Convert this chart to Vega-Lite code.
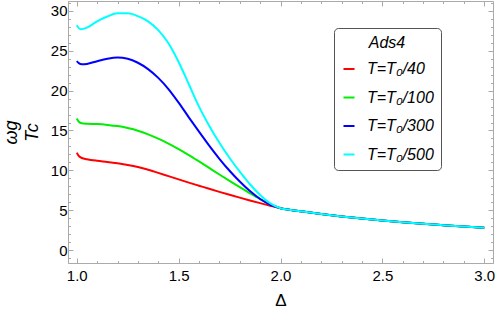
{
  "$schema": "https://vega.github.io/schema/vega-lite/v6.json",
  "width": 425,
  "height": 262,
  "autosize": {"type": "none"},
  "padding": {"left": 68, "top": 1, "right": 5, "bottom": 48},
  "background": "white",
  "config": {
    "view": {"stroke": "#aaaaaa", "strokeWidth": 1},
    "axis": {
      "domainColor": "#aaaaaa",
      "tickColor": "#aaaaaa",
      "labelColor": "#000000",
      "labelFont": "Liberation Sans",
      "labelFontSize": 15,
      "titleFont": "Liberation Sans",
      "titleColor": "#000000",
      "titleFontWeight": "normal",
      "grid": false,
      "labelOverlap": false,
      "labelFlush": false
    }
  },
  "datasets": {
    "curves": [
      {"d": 1.0, "w": 12.2, "s": "T=T₀/40"},
      {"d": 1.01, "w": 11.8, "s": "T=T₀/40"},
      {"d": 1.025, "w": 11.55, "s": "T=T₀/40"},
      {"d": 1.05, "w": 11.4, "s": "T=T₀/40"},
      {"d": 1.1, "w": 11.2, "s": "T=T₀/40"},
      {"d": 1.15, "w": 11.05, "s": "T=T₀/40"},
      {"d": 1.2, "w": 10.88, "s": "T=T₀/40"},
      {"d": 1.25, "w": 10.68, "s": "T=T₀/40"},
      {"d": 1.3, "w": 10.42, "s": "T=T₀/40"},
      {"d": 1.35, "w": 10.07, "s": "T=T₀/40"},
      {"d": 1.4, "w": 9.68, "s": "T=T₀/40"},
      {"d": 1.45, "w": 9.27, "s": "T=T₀/40"},
      {"d": 1.5, "w": 8.86, "s": "T=T₀/40"},
      {"d": 1.55, "w": 8.46, "s": "T=T₀/40"},
      {"d": 1.6, "w": 8.07, "s": "T=T₀/40"},
      {"d": 1.65, "w": 7.68, "s": "T=T₀/40"},
      {"d": 1.7, "w": 7.3, "s": "T=T₀/40"},
      {"d": 1.75, "w": 6.93, "s": "T=T₀/40"},
      {"d": 1.8, "w": 6.57, "s": "T=T₀/40"},
      {"d": 1.85, "w": 6.22, "s": "T=T₀/40"},
      {"d": 1.9, "w": 5.88, "s": "T=T₀/40"},
      {"d": 1.95, "w": 5.55, "s": "T=T₀/40"},
      {"d": 2.0, "w": 5.25, "s": "T=T₀/40"},
      {"d": 2.05, "w": 5.03, "s": "T=T₀/40"},
      {"d": 2.1, "w": 4.85, "s": "T=T₀/40"},
      {"d": 2.2, "w": 4.52, "s": "T=T₀/40"},
      {"d": 2.3, "w": 4.22, "s": "T=T₀/40"},
      {"d": 2.4, "w": 3.95, "s": "T=T₀/40"},
      {"d": 2.5, "w": 3.71, "s": "T=T₀/40"},
      {"d": 2.6, "w": 3.49, "s": "T=T₀/40"},
      {"d": 2.7, "w": 3.29, "s": "T=T₀/40"},
      {"d": 2.8, "w": 3.12, "s": "T=T₀/40"},
      {"d": 2.9, "w": 2.95, "s": "T=T₀/40"},
      {"d": 3.0, "w": 2.8, "s": "T=T₀/40"},

      {"d": 1.0, "w": 16.5, "s": "T=T₀/100"},
      {"d": 1.01, "w": 16.1, "s": "T=T₀/100"},
      {"d": 1.025, "w": 15.9, "s": "T=T₀/100"},
      {"d": 1.05, "w": 15.85, "s": "T=T₀/100"},
      {"d": 1.1, "w": 15.8, "s": "T=T₀/100"},
      {"d": 1.15, "w": 15.7, "s": "T=T₀/100"},
      {"d": 1.2, "w": 15.55, "s": "T=T₀/100"},
      {"d": 1.25, "w": 15.3, "s": "T=T₀/100"},
      {"d": 1.3, "w": 14.97, "s": "T=T₀/100"},
      {"d": 1.35, "w": 14.52, "s": "T=T₀/100"},
      {"d": 1.4, "w": 13.98, "s": "T=T₀/100"},
      {"d": 1.45, "w": 13.36, "s": "T=T₀/100"},
      {"d": 1.5, "w": 12.67, "s": "T=T₀/100"},
      {"d": 1.55, "w": 11.92, "s": "T=T₀/100"},
      {"d": 1.6, "w": 11.12, "s": "T=T₀/100"},
      {"d": 1.65, "w": 10.3, "s": "T=T₀/100"},
      {"d": 1.7, "w": 9.48, "s": "T=T₀/100"},
      {"d": 1.75, "w": 8.67, "s": "T=T₀/100"},
      {"d": 1.8, "w": 7.88, "s": "T=T₀/100"},
      {"d": 1.85, "w": 7.12, "s": "T=T₀/100"},
      {"d": 1.9, "w": 6.4, "s": "T=T₀/100"},
      {"d": 1.95, "w": 5.77, "s": "T=T₀/100"},
      {"d": 2.0, "w": 5.25, "s": "T=T₀/100"},
      {"d": 2.05, "w": 5.03, "s": "T=T₀/100"},
      {"d": 2.1, "w": 4.85, "s": "T=T₀/100"},
      {"d": 2.2, "w": 4.52, "s": "T=T₀/100"},
      {"d": 2.3, "w": 4.22, "s": "T=T₀/100"},
      {"d": 2.4, "w": 3.95, "s": "T=T₀/100"},
      {"d": 2.5, "w": 3.71, "s": "T=T₀/100"},
      {"d": 2.6, "w": 3.49, "s": "T=T₀/100"},
      {"d": 2.7, "w": 3.29, "s": "T=T₀/100"},
      {"d": 2.8, "w": 3.12, "s": "T=T₀/100"},
      {"d": 2.9, "w": 2.95, "s": "T=T₀/100"},
      {"d": 3.0, "w": 2.8, "s": "T=T₀/100"},

      {"d": 1.0, "w": 23.7, "s": "T=T₀/300"},
      {"d": 1.01, "w": 23.45, "s": "T=T₀/300"},
      {"d": 1.025, "w": 23.3, "s": "T=T₀/300"},
      {"d": 1.05, "w": 23.35, "s": "T=T₀/300"},
      {"d": 1.1, "w": 23.7, "s": "T=T₀/300"},
      {"d": 1.15, "w": 24.0, "s": "T=T₀/300"},
      {"d": 1.2, "w": 24.15, "s": "T=T₀/300"},
      {"d": 1.25, "w": 24.0, "s": "T=T₀/300"},
      {"d": 1.3, "w": 23.5, "s": "T=T₀/300"},
      {"d": 1.35, "w": 22.7, "s": "T=T₀/300"},
      {"d": 1.4, "w": 21.6, "s": "T=T₀/300"},
      {"d": 1.45, "w": 20.2, "s": "T=T₀/300"},
      {"d": 1.5, "w": 18.5, "s": "T=T₀/300"},
      {"d": 1.55, "w": 16.65, "s": "T=T₀/300"},
      {"d": 1.6, "w": 14.85, "s": "T=T₀/300"},
      {"d": 1.65, "w": 13.1, "s": "T=T₀/300"},
      {"d": 1.7, "w": 11.45, "s": "T=T₀/300"},
      {"d": 1.75, "w": 9.95, "s": "T=T₀/300"},
      {"d": 1.8, "w": 8.6, "s": "T=T₀/300"},
      {"d": 1.85, "w": 7.4, "s": "T=T₀/300"},
      {"d": 1.9, "w": 6.4, "s": "T=T₀/300"},
      {"d": 1.95, "w": 5.68, "s": "T=T₀/300"},
      {"d": 2.0, "w": 5.25, "s": "T=T₀/300"},
      {"d": 2.05, "w": 5.03, "s": "T=T₀/300"},
      {"d": 2.1, "w": 4.85, "s": "T=T₀/300"},
      {"d": 2.2, "w": 4.52, "s": "T=T₀/300"},
      {"d": 2.3, "w": 4.22, "s": "T=T₀/300"},
      {"d": 2.4, "w": 3.95, "s": "T=T₀/300"},
      {"d": 2.5, "w": 3.71, "s": "T=T₀/300"},
      {"d": 2.6, "w": 3.49, "s": "T=T₀/300"},
      {"d": 2.7, "w": 3.29, "s": "T=T₀/300"},
      {"d": 2.8, "w": 3.12, "s": "T=T₀/300"},
      {"d": 2.9, "w": 2.95, "s": "T=T₀/300"},
      {"d": 3.0, "w": 2.8, "s": "T=T₀/300"},

      {"d": 1.0, "w": 28.2, "s": "T=T₀/500"},
      {"d": 1.01, "w": 27.85, "s": "T=T₀/500"},
      {"d": 1.02, "w": 27.7, "s": "T=T₀/500"},
      {"d": 1.05, "w": 27.9, "s": "T=T₀/500"},
      {"d": 1.1, "w": 28.7, "s": "T=T₀/500"},
      {"d": 1.15, "w": 29.3, "s": "T=T₀/500"},
      {"d": 1.2, "w": 29.7, "s": "T=T₀/500"},
      {"d": 1.25, "w": 29.7, "s": "T=T₀/500"},
      {"d": 1.3, "w": 29.35, "s": "T=T₀/500"},
      {"d": 1.35, "w": 28.7, "s": "T=T₀/500"},
      {"d": 1.4, "w": 27.6, "s": "T=T₀/500"},
      {"d": 1.45, "w": 25.95, "s": "T=T₀/500"},
      {"d": 1.5, "w": 23.6, "s": "T=T₀/500"},
      {"d": 1.55, "w": 20.8, "s": "T=T₀/500"},
      {"d": 1.6, "w": 18.0, "s": "T=T₀/500"},
      {"d": 1.65, "w": 15.6, "s": "T=T₀/500"},
      {"d": 1.7, "w": 13.45, "s": "T=T₀/500"},
      {"d": 1.75, "w": 11.55, "s": "T=T₀/500"},
      {"d": 1.8, "w": 9.83, "s": "T=T₀/500"},
      {"d": 1.85, "w": 8.25, "s": "T=T₀/500"},
      {"d": 1.9, "w": 6.9, "s": "T=T₀/500"},
      {"d": 1.95, "w": 5.85, "s": "T=T₀/500"},
      {"d": 2.0, "w": 5.25, "s": "T=T₀/500"},
      {"d": 2.05, "w": 5.03, "s": "T=T₀/500"},
      {"d": 2.1, "w": 4.85, "s": "T=T₀/500"},
      {"d": 2.2, "w": 4.52, "s": "T=T₀/500"},
      {"d": 2.3, "w": 4.22, "s": "T=T₀/500"},
      {"d": 2.4, "w": 3.95, "s": "T=T₀/500"},
      {"d": 2.5, "w": 3.71, "s": "T=T₀/500"},
      {"d": 2.6, "w": 3.49, "s": "T=T₀/500"},
      {"d": 2.7, "w": 3.29, "s": "T=T₀/500"},
      {"d": 2.8, "w": 3.12, "s": "T=T₀/500"},
      {"d": 2.9, "w": 2.95, "s": "T=T₀/500"},
      {"d": 3.0, "w": 2.8, "s": "T=T₀/500"}
    ]
  },
  "data": {"name": "curves"},
  "resolve": {"axis": {"x": "independent", "y": "independent"}},
  "layer": [
    {
      "mark": {"type": "line", "strokeWidth": 2, "interpolate": "monotone", "clip": true},
      "encoding": {
        "x": {
          "field": "d", "type": "quantitative",
          "scale": {"domain": [0.957, 3.043], "nice": false, "zero": false},
          "axis": {
            "orient": "bottom",
            "title": "Δ",
            "titleFontSize": 17,
            "titlePadding": 7,
            "values": [1.0, 1.1, 1.2, 1.3, 1.4, 1.5, 1.6, 1.7, 1.8, 1.9, 2.0, 2.1, 2.2, 2.3, 2.4, 2.5, 2.6, 2.7, 2.8, 2.9, 3.0],
            "labelExpr": "abs(datum.value*2 - round(datum.value*2)) < 0.001 ? format(datum.value, '.1f') : ''",
            "tickSize": {"condition": {"test": "abs(datum.value*2 - round(datum.value*2)) < 0.001", "value": -5}, "value": -2.5},
            "labelPadding": 10
          }
        },
        "y": {
          "field": "w", "type": "quantitative",
          "scale": {"domain": [-1.63, 31.25], "nice": false, "zero": false},
          "axis": {
            "orient": "left",
            "title": ["ωg", "Tc"],
            "titleFontSize": 18,
            "titleFontStyle": "italic",
            "titlePadding": 9,
            "titleLineHeight": 21,
            "values": [-1, 0, 1, 2, 3, 4, 5, 6, 7, 8, 9, 10, 11, 12, 13, 14, 15, 16, 17, 18, 19, 20, 21, 22, 23, 24, 25, 26, 27, 28, 29, 30, 31],
            "labelExpr": "abs(datum.value/5 - round(datum.value/5)) < 0.001 ? format(datum.value, 'd') : ''",
            "tickSize": {"condition": {"test": "abs(datum.value/5 - round(datum.value/5)) < 0.001", "value": -5}, "value": -2.5},
            "labelPadding": 6
          }
        },
        "color": {
          "field": "s", "type": "nominal",
          "scale": {"domain": ["T=T₀/40", "T=T₀/100", "T=T₀/300", "T=T₀/500"], "range": ["#ff0000", "#00ee00", "#0000ff", "#00ffff"]},
          "legend": {
            "orient": "none",
            "legendX": 266,
            "legendY": 27,
            "title": "Ads4",
            "titleFont": "Liberation Sans",
            "titleFontStyle": "italic",
            "titleFontWeight": "normal",
            "titleFontSize": 16,
            "titleColor": "#000000",
            "titleAnchor": "middle",
            "titlePadding": 10,
            "labelFont": "Liberation Sans",
            "labelFontStyle": "italic",
            "labelFontSize": 16,
            "labelColor": "#000000",
            "labelOffset": 10,
            "symbolType": "stroke",
            "symbolSize": 121,
            "symbolStrokeWidth": 2,
            "rowPadding": 12.5,
            "padding": 7,
            "strokeColor": "#555555",
            "fillColor": "#ffffff",
            "cornerRadius": 4
          }
        }
      }
    },
    {
      "mark": {"type": "line", "strokeOpacity": 0},
      "encoding": {
        "x": {
          "field": "d", "type": "quantitative",
          "axis": {
            "orient": "top",
            "title": null,
            "labels": false,
            "domain": false,
            "values": [1.0, 1.1, 1.2, 1.3, 1.4, 1.5, 1.6, 1.7, 1.8, 1.9, 2.0, 2.1, 2.2, 2.3, 2.4, 2.5, 2.6, 2.7, 2.8, 2.9, 3.0],
            "tickSize": {"condition": {"test": "abs(datum.value*2 - round(datum.value*2)) < 0.001", "value": -5}, "value": -2.5}
          }
        },
        "y": {
          "field": "w", "type": "quantitative",
          "axis": {
            "orient": "right",
            "title": null,
            "labels": false,
            "domain": false,
            "values": [-1, 0, 1, 2, 3, 4, 5, 6, 7, 8, 9, 10, 11, 12, 13, 14, 15, 16, 17, 18, 19, 20, 21, 22, 23, 24, 25, 26, 27, 28, 29, 30, 31],
            "tickSize": {"condition": {"test": "abs(datum.value/5 - round(datum.value/5)) < 0.001", "value": -5}, "value": -2.5}
          }
        },
        "detail": {"field": "s", "type": "nominal"}
      }
    }
  ]
}
